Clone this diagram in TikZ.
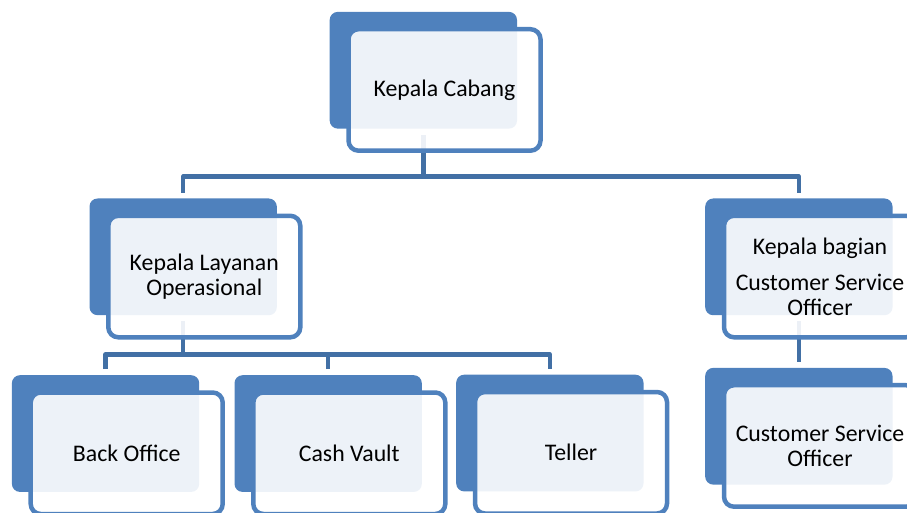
\documentclass[tikz,border=0pt]{standalone}
\usepackage{fontspec}
\setmainfont{Carlito}
\definecolor{boxblue}{RGB}{79,129,189}
\definecolor{linkblue}{RGB}{66,112,165}
\begin{document}
\begin{tikzpicture}[x=1pt,y=-1pt,
  back/.style={fill=boxblue, rounded corners=8pt, minimum width=187.3pt, minimum height=116.7pt, inner sep=0pt, anchor=north west},
  front/.style={draw=boxblue, line width=4.5pt, fill=white, fill opacity=0.9, text opacity=1, rounded corners=10pt, minimum width=192pt, minimum height=121.5pt, inner sep=0pt, align=center, font=\fontsize{23.8}{24.5}\selectfont, anchor=center},
  conn/.style={draw=linkblue, line width=4.5pt, line join=round}]
\clip (0,0) rectangle (907,513);
% back plates
\node[back] (kcB) at (329.5,11.7) {};
\node[back] (kloB) at (89.3,198.3) {};
\node[back] (kbB) at (705,198.3) {};
\node[back] (boB) at (11.7,375) {};
\node[back] (cvB) at (234.3,375) {};
\node[back] (tB) at (456,374.5) {};
\node[back] (csB) at (705,367.7) {};
% bus coordinates
\coordinate (bus1) at (423,176.7);
\coordinate (bus2) at (183,354.5);
% connectors
\draw[conn] ([yshift=-6pt]kcB.south) -- (kcB.south |- bus1);
\draw[conn] ([yshift=5.6pt]kloB.north) |- (kbB.north |- bus1) -- ([yshift=5.6pt]kbB.north);
\draw[conn] ([yshift=-6pt]kloB.south) -- (kloB.south |- bus2);
\draw[conn] ([yshift=6pt]boB.north) |- (tB.north |- bus2) -- ([yshift=6pt]tB.north);
\draw[conn] ([yshift=6pt]cvB.north) -- (cvB.north |- bus2);
\draw[conn] ([yshift=-6pt]kbB.south) -- ([yshift=6pt]csB.north);
% front cards
\node[front] (kc) at ([xshift=115pt,yshift=-78.25pt]kcB.north west) {Kepala Cabang};
\node[front] (klo) at ([xshift=115pt,yshift=-78.25pt]kloB.north west) {Kepala Layanan\\Operasional};
\node[front] (kb) at ([xshift=115pt,yshift=-78.25pt]kbB.north west) {Kepala bagian\\[12pt]Customer Service\\Officer};
\node[front] (bo) at ([xshift=115pt,yshift=-78.25pt]boB.north west) {Back Office};
\node[front] (cv) at ([xshift=115pt,yshift=-78.25pt]cvB.north west) {Cash Vault};
\node[front] (t) at ([xshift=115pt,yshift=-78.25pt]tB.north west) {Teller};
\node[front] (cs) at ([xshift=115pt,yshift=-78.25pt]csB.north west) {Customer Service\\Officer};
\end{tikzpicture}
\end{document}
